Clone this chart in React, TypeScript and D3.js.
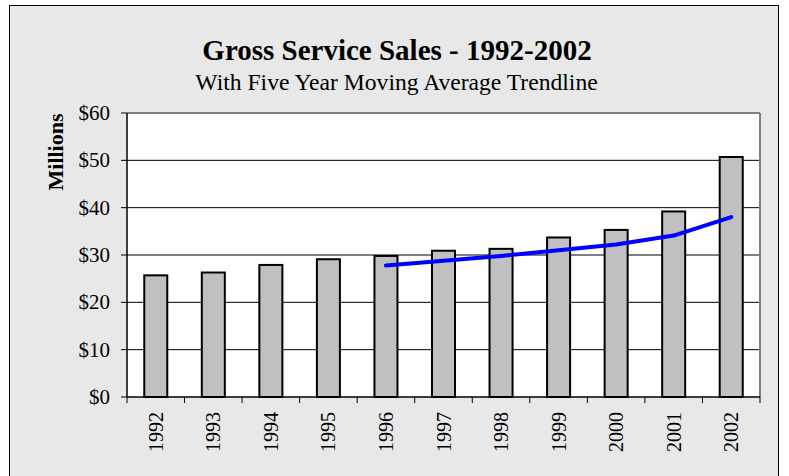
import React from 'react';
import * as d3 from 'd3';

const years = ['1992', '1993', '1994', '1995', '1996', '1997', '1998', '1999', '2000', '2001', '2002'];
const sales = [25.7, 26.3, 27.9, 29.1, 29.8, 30.9, 31.3, 33.7, 35.3, 39.2, 50.7];
const trendYears = ['1996', '1997', '1998', '1999', '2000', '2001', '2002'];
const trendValues = [27.8, 28.8, 29.8, 31.0, 32.2, 34.1, 38.0];
const yTicks = [0, 10, 20, 30, 40, 50, 60];

const W = 789;
const H = 476;
const PL = 127, PR = 760, PT = 113, PB = 397;
const FONT = '"Liberation Serif", "Times New Roman", serif';

export default function App() {
  const x = d3.scaleBand<string>().domain(years).range([PL, PR]).paddingInner(0.6).paddingOuter(0.3);
  const y = d3.scaleLinear().domain([0, 60]).range([PB, PT]);
  const bw = x.bandwidth();
  const line = d3.line<number>()
    .x((_, i) => (x(trendYears[i]) as number) + bw / 2)
    .y((d) => y(d));
  const boundaries = d3.range(years.length + 1).map((i) => PL + i * ((PR - PL) / years.length));

  return (
    <svg width={W} height={H} style={{ position: 'absolute', left: 0, top: 0 }} fontFamily={FONT}>
      <rect x={9.5} y={5.5} width={769} height={474} fill="#e8e8e8" stroke="#000" strokeWidth={1} />
      <text x={397} y={60} textAnchor="middle" fontSize={29} fontWeight="bold" fill="#000">Gross Service Sales - 1992-2002</text>
      <text x={396.5} y={90} textAnchor="middle" fontSize={23.6} fill="#000">With Five Year Moving Average Trendline</text>
      <text transform={`translate(63,152) rotate(-90)`} textAnchor="middle" fontSize={22} fontWeight="bold" fill="#000">Millions</text>

      <rect x={PL} y={PT} width={PR - PL} height={PB - PT} fill="#fff" />
      {yTicks.filter((t) => t > 0 && t < 60).map((t) => (
        <line key={'g' + t} x1={PL} x2={PR} y1={y(t)} y2={y(t)} stroke="#000" strokeWidth={1} />
      ))}
      <line x1={PL} x2={PR} y1={PT} y2={PT} stroke="#808080" strokeWidth={2} />
      <line x1={PR} x2={PR} y1={PT} y2={PB} stroke="#808080" strokeWidth={2} />

      {sales.map((v, i) => (
        <rect key={years[i]} x={x(years[i])} y={y(v)} width={bw} height={PB - y(v)} fill="#c0c0c0" stroke="#000" strokeWidth={2} />
      ))}

      <path d={line(trendValues) || ''} fill="none" stroke="#0000ff" strokeWidth={4} strokeLinecap="round" strokeLinejoin="round" />

      <line x1={PL} x2={PL} y1={PT} y2={PB} stroke="#000" strokeWidth={1.5} />
      <line x1={PL} x2={PR} y1={PB} y2={PB} stroke="#000" strokeWidth={1.5} />
      {yTicks.map((t) => (
        <g key={'y' + t}>
          <line x1={PL - 6} x2={PL} y1={y(t)} y2={y(t)} stroke="#000" strokeWidth={1} />
          <text x={110} y={y(t) + 7} textAnchor="end" fontSize={21} fill="#000">{'$' + t}</text>
        </g>
      ))}
      {boundaries.map((b, i) => (
        <line key={'t' + i} x1={b} x2={b} y1={PB} y2={PB + 6} stroke="#000" strokeWidth={1} />
      ))}
      {years.map((yr) => (
        <text key={'x' + yr} transform={`translate(${(x(yr) as number) + bw / 2 + 7},412) rotate(-90)`} textAnchor="end" fontSize={20} fill="#000">{yr}</text>
      ))}
    </svg>
  );
}
